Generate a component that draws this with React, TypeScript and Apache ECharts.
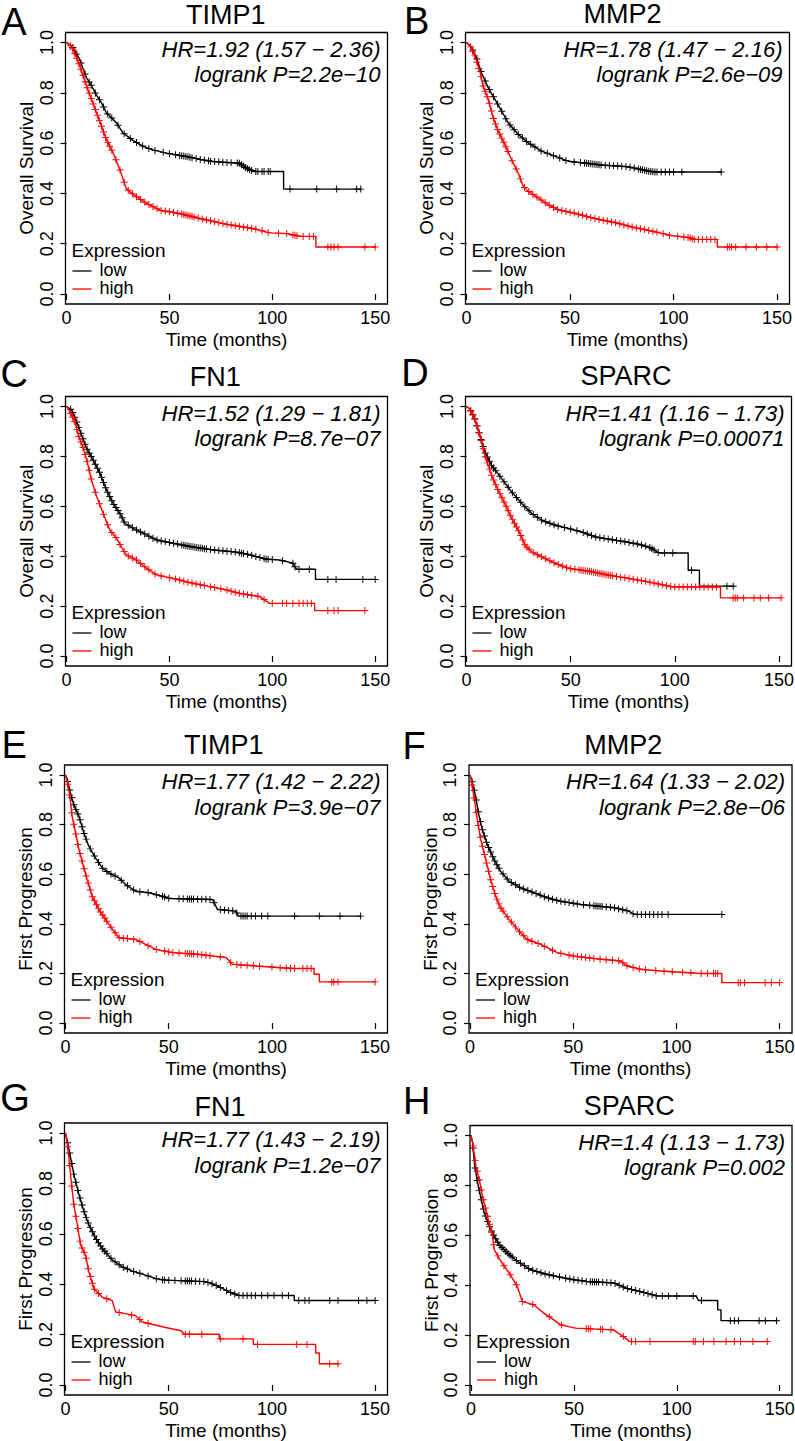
import React, { useEffect, useRef } from "react";
import * as echarts from "echarts";

type Pt = [number, number];

// ---------- texts ----------
const panelLetters = ["A", "B", "C", "D", "E", "F", "G", "H"];
const geneNames = ["TIMP1", "MMP2", "FN1", "SPARC", "TIMP1", "MMP2", "FN1", "SPARC"];
const yAxisTitles = [
  "Overall Survival", "Overall Survival", "Overall Survival", "Overall Survival",
  "First Progression", "First Progression", "First Progression", "First Progression",
];
const hrLabels = [
  "HR=1.92 (1.57 − 2.36)", "HR=1.78 (1.47 − 2.16)", "HR=1.52 (1.29 − 1.81)", "HR=1.41 (1.16 − 1.73)",
  "HR=1.77 (1.42 − 2.22)", "HR=1.64 (1.33 − 2.02)", "HR=1.77 (1.43 − 2.19)", "HR=1.4 (1.13 − 1.73)",
];
const pLabels = [
  "logrank P=2.2e−10", "logrank P=2.6e−09", "logrank P=8.7e−07", "logrank P=0.00071",
  "logrank P=3.9e−07", "logrank P=2.8e−06", "logrank P=1.2e−07", "logrank P=0.002",
];
const groupNames = ["low", "high"];
const legendTitle = "Expression";
const xAxisTitle = "Time (months)";
const xTicks = [0, 50, 100, 150];
const yTicks = [0, 0.2, 0.4, 0.6, 0.8, 1.0];

// ---------- survival curves (time, survival) ----------
const lowA: Pt[] = [[0,1],[2,0.99],[4,0.97],[6.5,0.93],[9.7,0.86],[12,0.83],[14.6,0.79],[17,0.76],[19.4,0.72],[22,0.70],[24.3,0.68],[27.5,0.64],[30,0.625],[32.4,0.61],[37.3,0.587],[42,0.573],[48.6,0.56],[58,0.547],[65,0.535],[71,0.527],[84,0.52],[87.5,0.50],[91,0.487],[105.5,0.487],[105.5,0.417],[143.4,0.417]];
const highA: Pt[] = [[0,1],[2.4,0.985],[4.9,0.94],[7.3,0.887],[9.7,0.827],[12.2,0.773],[14.6,0.72],[17,0.667],[19.4,0.613],[22.7,0.56],[26,0.493],[29,0.42],[31,0.405],[34,0.387],[38.9,0.36],[45.4,0.333],[55,0.32],[64.8,0.30],[77.8,0.277],[90.8,0.26],[98.9,0.243],[107,0.24],[113.5,0.229],[121.2,0.229],[121.2,0.187],[150.4,0.187]];
const lowB: Pt[] = [[0,1],[2.4,0.98],[4.8,0.94],[7.2,0.88],[10.5,0.82],[13.7,0.774],[16.9,0.728],[20.1,0.681],[24.9,0.635],[29.7,0.602],[36.2,0.568],[42.6,0.548],[49,0.528],[55.5,0.522],[65,0.513],[78,0.506],[87.6,0.489],[91,0.485],[123,0.485]];
const highB: Pt[] = [[0,1],[1.6,0.99],[4,0.947],[6.4,0.887],[8,0.827],[10.5,0.774],[12.9,0.70],[15.3,0.648],[18.5,0.595],[21.7,0.535],[24.9,0.482],[27.3,0.429],[29.7,0.409],[34.6,0.382],[39.4,0.355],[44.2,0.335],[52.3,0.321],[61.9,0.30],[71.5,0.284],[81.2,0.264],[90.8,0.248],[98.9,0.232],[106.9,0.225],[110,0.217],[121.1,0.217],[121.1,0.187],[150.3,0.187]];
const lowC: Pt[] = [[0,1],[2.4,0.987],[4.9,0.94],[7.3,0.886],[9.7,0.833],[12.9,0.786],[16.2,0.733],[19.4,0.666],[22.6,0.612],[25.9,0.572],[28.3,0.532],[32.4,0.512],[37.2,0.492],[43.7,0.465],[51.8,0.452],[59.9,0.439],[71.2,0.425],[80.9,0.418],[87.4,0.409],[97.1,0.388],[103.6,0.385],[110,0.372],[111.7,0.348],[121,0.348],[121,0.307],[150,0.307]];
const highC: Pt[] = [[0,1],[1.6,0.98],[4,0.94],[5.7,0.886],[8.1,0.833],[10,0.78],[12.1,0.706],[14.6,0.64],[17.8,0.572],[21,0.505],[24.3,0.472],[27.5,0.425],[29.1,0.405],[33.9,0.385],[38.8,0.352],[43.7,0.325],[51.8,0.311],[59.9,0.294],[69.6,0.278],[77.7,0.265],[84.2,0.251],[93.9,0.238],[98.7,0.211],[120.6,0.211],[120.6,0.182],[145.6,0.182]];
const lowD: Pt[] = [[0,1],[1.6,0.99],[4,0.95],[6.4,0.884],[8.8,0.817],[12,0.764],[16.9,0.711],[21.7,0.657],[26.5,0.611],[31.3,0.571],[36.1,0.544],[42.6,0.524],[49,0.511],[55.5,0.497],[61.9,0.477],[71.5,0.464],[81,0.451],[87.5,0.437],[92.3,0.413],[106.4,0.413],[106.4,0.344],[111.8,0.344],[111.8,0.28],[128.8,0.28]];
const highD: Pt[] = [[0,1],[1.6,0.99],[4,0.95],[6.4,0.884],[8.8,0.804],[12,0.724],[15.2,0.664],[18.4,0.611],[21.7,0.551],[24.9,0.504],[28.1,0.444],[31.3,0.417],[36.1,0.397],[42.6,0.371],[49,0.351],[58.6,0.34],[68.2,0.324],[77.8,0.311],[87.5,0.297],[98.7,0.277],[121.9,0.277],[121.9,0.233],[151.3,0.233]];
const lowE: Pt[] = [[0,1],[0.8,0.98],[2.4,0.926],[4,0.88],[6.5,0.833],[8.9,0.766],[11.3,0.712],[14.6,0.665],[17.8,0.625],[21,0.605],[25.9,0.585],[29.1,0.558],[34,0.531],[40.5,0.525],[47,0.511],[50.2,0.502],[71.2,0.498],[73.6,0.458],[82.5,0.451],[83.8,0.431],[143.2,0.431]];
const highE: Pt[] = [[0,1],[0.8,0.97],[1.9,0.926],[3.2,0.833],[4.9,0.766],[6.5,0.699],[8.9,0.625],[10.5,0.578],[12.9,0.511],[16.2,0.458],[19.4,0.418],[22.7,0.378],[25.9,0.344],[34,0.337],[38.8,0.317],[43.7,0.297],[51.8,0.284],[64.7,0.277],[77.7,0.264],[80.9,0.237],[92.2,0.23],[110,0.22],[120.4,0.22],[120.4,0.197],[123,0.197],[123,0.166],[150,0.166]];
const lowF: Pt[] = [[0,1],[1.1,0.97],[2.7,0.913],[4.4,0.833],[6,0.779],[8.4,0.719],[11.6,0.659],[14.8,0.612],[18.9,0.572],[24.5,0.545],[31,0.525],[37.4,0.505],[43.9,0.491],[53.5,0.478],[69.7,0.465],[76.9,0.451],[79.4,0.438],[122,0.438]];
const highF: Pt[] = [[0,1],[0.6,0.98],[1.9,0.913],[3.5,0.82],[5.2,0.739],[7.6,0.659],[10,0.578],[12.4,0.511],[14.8,0.465],[18.9,0.418],[23.7,0.371],[27.7,0.337],[34.2,0.317],[42.3,0.284],[50.3,0.27],[60,0.26],[72.9,0.25],[76.1,0.23],[82.6,0.217],[92.3,0.21],[111.6,0.2],[122,0.2],[122,0.163],[150,0.163]];
const lowG: Pt[] = [[0,1],[0.8,0.97],[2.4,0.904],[4,0.837],[6.5,0.756],[8.9,0.69],[11.3,0.636],[14.6,0.582],[17.8,0.542],[22.7,0.496],[27.5,0.469],[32.4,0.452],[38.8,0.436],[43.7,0.422],[48.5,0.416],[68,0.41],[72.8,0.396],[79.3,0.369],[84.1,0.355],[110.8,0.355],[110.8,0.335],[150,0.335]];
const highG: Pt[] = [[0,1],[0.8,0.96],[1.6,0.904],[2.9,0.797],[4,0.717],[5.7,0.636],[7.3,0.556],[9.7,0.515],[11.3,0.449],[13.8,0.382],[17.8,0.348],[22.6,0.335],[24.3,0.29],[34,0.275],[37.2,0.25],[48.5,0.228],[56,0.215],[57.5,0.201],[74.5,0.201],[74.5,0.183],[91,0.183],[91,0.161],[121.2,0.161],[121.2,0.127],[123,0.127],[123,0.084],[132.4,0.084]];
const lowH: Pt[] = [[0,1],[0.8,0.97],[1.6,0.89],[3.2,0.81],[4.8,0.75],[6.4,0.69],[8.9,0.636],[11.3,0.596],[13.7,0.562],[17.7,0.529],[22.5,0.496],[29,0.462],[35.4,0.446],[43.5,0.432],[49.9,0.422],[56.3,0.415],[69.2,0.409],[75.6,0.388],[82.1,0.375],[90.1,0.357],[109.4,0.357],[110.5,0.339],[119.9,0.339],[119.9,0.301],[121.5,0.301],[121.5,0.258],[148.8,0.258]];
const highH: Pt[] = [[0,1],[0.8,0.97],[2.4,0.877],[4,0.823],[5.6,0.756],[8,0.676],[10.5,0.596],[11.3,0.542],[14.5,0.496],[18.5,0.449],[22.5,0.395],[24.9,0.335],[30.6,0.321],[35.4,0.288],[40.2,0.261],[43.5,0.241],[50.7,0.228],[69.2,0.221],[74,0.194],[77.2,0.174],[144.4,0.174]];

// ---------- censoring times ----------
const censLowA = [3,5,7,9,11,12,14,16,18,20,22,25,28,31,34,37,40,43,47,50,53,55,56,57,58,59,60,61,63,65,67,69,70,72,74,76,78,80,83,84,85,86,87,88,89,90,92,93,95,96,98,99,108.6,121.6,131.3,141,143];
const censHighA = [2,3,4,5,6,7,8,9,10,11,12,13,14,15,16,17,18,19,20,21,22,24,26,28,30,32,34,36,38,40,42,44,46,48,50,52,54,56,57,58,59,60,61,62,64,66,68,70,72,74,76,78,80,82,84,86,88,90,92,95,98,103,107,110,111,112,115,118,120,127,128.5,130,132,145,150];
const censLowB = [3,5,7,9,11,13,15,17,19,21,23,25,27,29,31,33,36,39,42,45,48,52,55,57,58,59,60,61,62,63,64,65,67,69,71,73,75,77,79,81,83,84,85,86,87,88,89,90,91,92,94,96,98,100,104,123];
const censHighB = [2,3,4,5,6,7,8,9,10,11,12,13,14,15,16,17,18,19,20,22,24,26,28,30,32,34,36,38,40,42,44,46,48,50,52,54,56,58,60,62,64,66,68,70,72,74,76,78,80,82,84,86,88,90,92,95,98,102,105,107,108,109,110,112,114,116,118,120,126,127,128,130,135,140,145,150];
const censLowC = [2,3,4,5,6,7,8,9,10,11,12,13,14,15,16,17,18,19,20,21,22,23,24,25,26,27,28,30,32,34,36,38,40,42,44,46,48,50,52,54,56,57,58,59,60,61,62,63,64,65,66,67,68,70,72,74,76,78,80,82,84,85,86,88,90,92,94,96,97,98,100,105,110,111,113,118,127,131,144,150];
const censHighC = [2,3,4,5,6,7,8,9,10,11,12,14,16,18,20,22,24,26,28,30,32,34,36,38,40,43,46,50,53,55,57,59,61,63,65,67,70,72,75,78,80,82,84,86,88,90,93,96,100,105,107,110,113,115,117,119,127,130,132,145];
const censLowD = [2,3,4,5,6,7,8,9,10,11,12,13,14,16,18,20,22,24,26,28,30,32,34,36,38,40,42,44,47,50,53,56,58,60,62,64,66,68,70,72,74,76,78,80,82,84,86,88,89,90,92,95,99,108,125,128];
const censHighD = [2,3,4,5,6,7,8,9,10,11,12,13,14,15,16,17,18,19,20,21,22,23,24,25,26,27,28,29,30,32,34,36,38,40,42,44,46,48,50,52,54,55,56,57,58,59,60,61,62,63,64,65,66,67,68,69,70,72,74,76,78,80,82,84,86,88,90,92,94,96,98,100,102,104,106,108,110,112,114,116,118,120,128,129,130,133,138,141,145,151];
const censLowE = [1,2,3,4,5,6,7,8,9,10,12,14,16,18,20,22,24,27,30,33,36,40,44,47,48,50,55,57,59,60,61,62,64,66,68,70,72,75,77,79,81,83,85,86,87,88,90,92,95,98,111,123,133,143];
const censHighE = [1,2,3,4,5,6,7,8,9,10,11,12,13,14,15,16,17,18,19,20,22,24,26,28,30,33,36,40,44,48,50,52,55,58,59,60,61,62,64,66,68,70,75,80,83,85,88,91,94,100,104,107,109,111,115,117,119,129,130,132,150];
const censLowF = [1,2,3,4,5,6,7,8,9,10,11,12,13,14,16,18,20,22,24,26,28,30,32,34,36,38,40,42,44,46,48,50,52,55,58,60,61,62,63,64,66,68,70,72,74,76,79,81,83,85,87,89,91,93,96,122];
const censHighF = [1,2,3,4,5,6,7,8,9,10,11,12,13,14,15,16,18,20,22,24,26,28,30,33,36,40,44,48,50,52,54,56,58,60,63,66,69,72,74,76,79,82,85,90,94,98,103,107,112,115,118,119,120,130,131,133,143,146,150];
const censLowG = [1,2,3,4,5,6,7,8,9,10,11,12,13,14,15,16,17,18,19,20,22,24,26,28,30,33,36,40,44,47,48,50,53,56,58,59,60,61,63,65,67,69,71,73,75,78,80,82,84,86,88,90,92,95,98,101,105,108,113,116,118,128,132,142,146,150];
const censHighG = [1,2,3,4,5,6,7,8,9,10,11,12,13,14,16,20,26,32,36,40,58,60,66,75,86,93,112,117,128,132];
const censLowH = [1,2,3,4,5,6,7,8,9,10,11,12,13,14,15,16,17,18,19,20,22,24,26,28,30,32,34,36,38,40,43,46,48,50,52,54,56,58,59,60,61,62,64,66,68,70,72,74,76,78,80,82,84,86,88,90,93,96,100,108,112,126,128,130,140,143,148.5];
const censHighH = [1,2,3,4,5,6,7,8,9,10,11,13,16,19,22,25,30,38,44,56,57,58,63,64,68,74,78,80,87,108,109,113,118,124,128,131,137,144];

const lowCurves = [lowA, lowB, lowC, lowD, lowE, lowF, lowG, lowH];
const highCurves = [highA, highB, highC, highD, highE, highF, highG, highH];
const lowCensors = [censLowA, censLowB, censLowC, censLowD, censLowE, censLowF, censLowG, censLowH];
const highCensors = [censHighA, censHighB, censHighC, censHighD, censHighE, censHighF, censHighG, censHighH];

// ---------- layout (pixels) ----------
const boxes = [
  { l: 65.5, t: 32.5, w: 322, h: 271.5 },
  { l: 465.5, t: 32.5, w: 324, h: 271.5 },
  { l: 65.5, t: 396.5, w: 322, h: 269.5 },
  { l: 465.5, t: 396.5, w: 326, h: 269.5 },
  { l: 64.5, t: 765, w: 323, h: 268 },
  { l: 469, t: 765, w: 323, h: 268 },
  { l: 64.5, t: 1123, w: 323, h: 272 },
  { l: 470, t: 1125.5, w: 322, h: 269.5 },
];
const titlePos = [[225.8, 14.5], [622.5, 14.2], [215.3, 376.5], [626, 375.5], [223.7, 745], [623.3, 745], [220, 1107], [629.3, 1106.3]];
const letterPos = [[13.8, 21.7], [416.7, 20.8], [14.2, 373.5], [415, 373.3], [14.2, 745], [414, 745.8], [15, 1098.3], [416.7, 1100.8]];

const BLACK = "#000000";
const RED = "#ff0000";
const FONT = '"Liberation Sans", Arial, Helvetica, sans-serif';
const PLUS = "path://M0,43H100V57H0Z M43,0H57V100H43Z";

function valueAt(curve: Pt[], t: number): number {
  for (let i = 0; i < curve.length - 1; i++) {
    const [x0, y0] = curve[i];
    const [x1, y1] = curve[i + 1];
    if (x1 > x0 && t >= x0 && t <= x1) return y0 + ((y1 - y0) * (t - x0)) / (x1 - x0);
  }
  return t < curve[0][0] ? curve[0][1] : curve[curve.length - 1][1];
}

function buildOption(): any {
  const grid: any[] = [];
  const xAxis: any[] = [];
  const yAxis: any[] = [];
  const series: any[] = [];
  const elements: any[] = [];

  boxes.forEach((b, i) => {
    grid.push({
      left: b.l, top: b.t, width: b.w, height: b.h,
      show: true, borderColor: BLACK, borderWidth: 1.3,
      backgroundColor: "rgba(0,0,0,0)", containLabel: false, outerBoundsMode: "none",
    });
    xAxis.push({
      gridIndex: i, type: "value", min: -0.5, max: 156,
      name: xAxisTitle, nameLocation: "middle", nameGap: 26,
      nameTextStyle: { color: BLACK, fontSize: 19, fontFamily: FONT },
      axisLine: { show: false }, splitLine: { show: false },
      axisTick: { show: true, length: 6, lineStyle: { color: BLACK, width: 1.2 }, customValues: xTicks },
      axisLabel: { show: true, customValues: xTicks, color: BLACK, fontSize: 18, fontFamily: FONT, margin: 5, formatter: (v: number) => String(Math.round(v)) },
    });
    yAxis.push({
      gridIndex: i, type: "value", min: -0.04, max: 1.04,
      name: yAxisTitles[i], nameLocation: "middle", nameGap: 29.5,
      nameTextStyle: { color: BLACK, fontSize: 19, fontFamily: FONT },
      axisLine: { show: false }, splitLine: { show: false },
      axisTick: { show: true, length: 6, lineStyle: { color: BLACK, width: 1.2 }, customValues: yTicks },
      axisLabel: { show: true, customValues: yTicks, rotate: 90, color: BLACK, fontSize: 18, fontFamily: FONT, margin: 10, formatter: (v: number) => v.toFixed(1) },
    });

    const curves = [lowCurves[i], highCurves[i]];
    const cens = [lowCensors[i], highCensors[i]];
    const colors = [BLACK, RED];
    [0, 1].forEach((g) => {
      series.push({
        type: "line", name: groupNames[g], xAxisIndex: i, yAxisIndex: i,
        data: curves[g], showSymbol: false, symbol: "none", silent: true,
        lineStyle: { color: colors[g], width: 1.4 }, itemStyle: { color: colors[g] }, z: 2 + g * 2,
      });
      series.push({
        type: "scatter", name: groupNames[g] + " censored", xAxisIndex: i, yAxisIndex: i,
        data: cens[g].map((t) => [t, valueAt(curves[g], t)]),
        symbol: PLUS, symbolSize: 7, silent: true,
        itemStyle: { color: colors[g], opacity: 1 }, z: 3 + g * 2,
      });
    });

    // panel letter & title
    elements.push({ type: "text", x: letterPos[i][0], y: letterPos[i][1], style: { text: panelLetters[i], fontSize: 38, fontFamily: FONT, fill: BLACK, align: "center", verticalAlign: "middle" } });
    elements.push({ type: "text", x: titlePos[i][0], y: titlePos[i][1], style: { text: geneNames[i], fontSize: 27, fontFamily: FONT, fill: BLACK, align: "center", verticalAlign: "middle" } });
    // HR & p
    const right = b.l + b.w - 7;
    elements.push({ type: "text", x: right, y: b.t + 16.5, style: { text: hrLabels[i], fontSize: 22, fontStyle: "italic", fontFamily: FONT, fill: BLACK, align: "right", verticalAlign: "middle" } });
    elements.push({ type: "text", x: right, y: b.t + 42, style: { text: pLabels[i], fontSize: 22, fontStyle: "italic", fontFamily: FONT, fill: BLACK, align: "right", verticalAlign: "middle" } });
    // legend
    const bottom = b.t + b.h;
    elements.push({ type: "text", x: b.l + 6, y: bottom - 54, style: { text: legendTitle, fontSize: 19, fontFamily: FONT, fill: BLACK, align: "left", verticalAlign: "middle" } });
    [0, 1].forEach((g) => {
      const ly = bottom - (g === 0 ? 33 : 15);
      elements.push({ type: "line", shape: { x1: b.l + 7, y1: ly, x2: b.l + 26, y2: ly }, style: { stroke: colors[g], lineWidth: 1.3 } });
      elements.push({ type: "text", x: b.l + 34, y: ly - 1.5, style: { text: groupNames[g], fontSize: 18, fontFamily: FONT, fill: BLACK, align: "left", verticalAlign: "middle" } });
    });
  });

  return {
    animation: false,
    backgroundColor: "#ffffff",
    textStyle: { fontFamily: FONT },
    grid, xAxis, yAxis, series,
    graphic: { elements },
  };
}

export default function App() {
  const ref = useRef<HTMLDivElement | null>(null);
  useEffect(() => {
    document.body.style.margin = "0";
    if (!ref.current) return;
    const chart = echarts.init(ref.current, undefined, { renderer: "svg" });
    chart.setOption(buildOption());
    return () => chart.dispose();
  }, []);
  return <div ref={ref} style={{ position: "absolute", left: 0, top: 0, width: 795, height: 1441, background: "#fff" }} />;
}
